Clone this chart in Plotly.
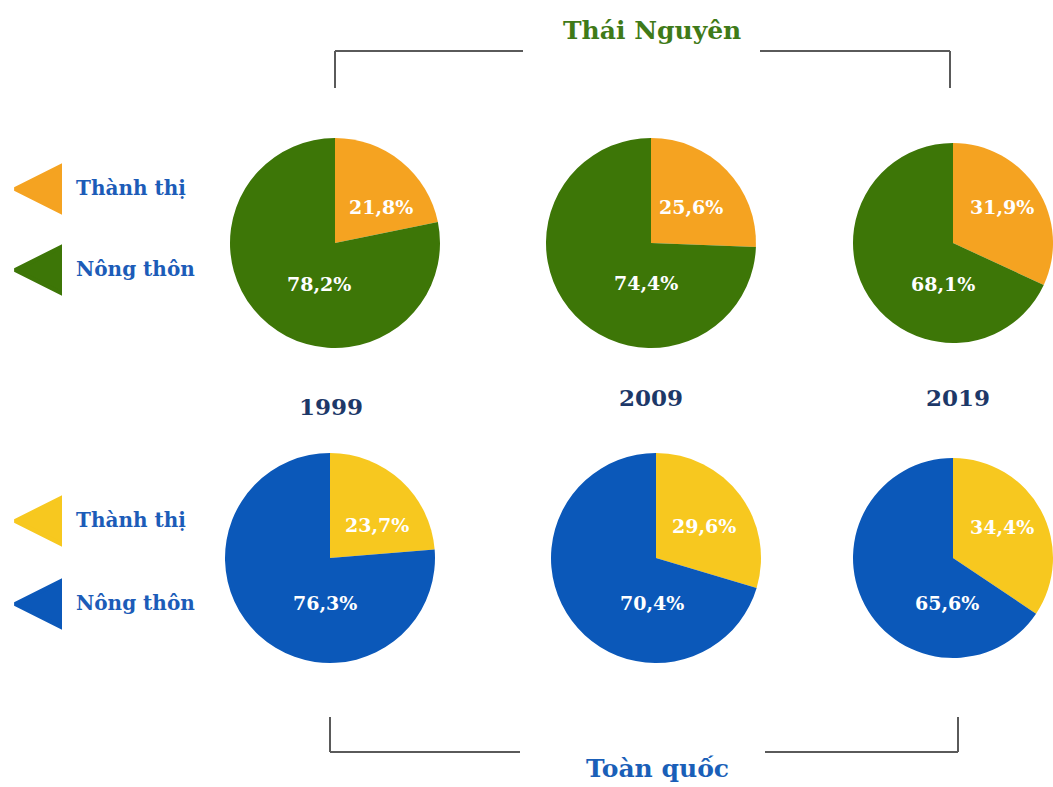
import plotly.graph_objects as go

W, H = 1053, 787

years = ["1999", "2009", "2019"]
categories = ["Thành thị", "Nông thôn"]
tn_urban = [21.8, 25.6, 31.9]
tn_rural = [78.2, 74.4, 68.1]
vn_urban = [23.7, 29.6, 34.4]
vn_rural = [76.3, 70.4, 65.6]
group_titles = ["Thái Nguyên", "Toàn quốc"]

TN_COLORS = ["#f5a321", "#3d7607"]
VN_COLORS = ["#f7c81f", "#0b58b9"]
LEGEND_TEXT = "#1c5cb8"
YEAR_TEXT = "#1d3868"
FONT = "DejaVu Serif"

def px(x):
    return x / W

def py(y):
    return 1 - y / H

def fmt(v):
    return f"{v:.1f}".replace(".", ",") + "%"

fig = go.Figure()

# pie geometry (pixels): centre x, centre y, radius
top_centers = [335, 651, 953]
bot_centers = [330, 656, 953]
radii = [105, 105, 100]
top_cy, bot_cy = 243, 558

# label anchor positions (pixels) for [urban, rural] slices
top_lab = [[(381, 207), (319, 284)], [(691, 207), (646, 283)], [(1002, 207), (943, 284)]]
bot_lab = [[(377, 525), (325, 603)], [(704, 526), (652, 603)], [(1002, 527), (947, 603)]]

def add_pie(vals, colors, cx, cy, r, labpos):
    x0, x1 = max(0, px(cx - r)), min(1, px(cx + r))
    y0, y1 = max(0, py(cy + r)), min(1, py(cy - r))
    fig.add_trace(go.Pie(
        labels=categories, values=vals, sort=False, direction="clockwise",
        rotation=0, marker=dict(colors=colors, line=dict(width=0)),
        textinfo="none",
        domain=dict(x=[x0, x1], y=[y0, y1]), showlegend=False,
        hoverinfo="label+value"))
    for v, (lx, ly) in zip(vals, labpos):
        fig.add_annotation(x=px(lx), y=py(ly), xref="paper", yref="paper", text=fmt(v),
                           showarrow=False, xanchor="center", yanchor="middle",
                           font=dict(family=FONT, size=19, color="white", weight="bold"))

for i in range(3):
    add_pie([tn_urban[i], tn_rural[i]], TN_COLORS, top_centers[i], top_cy, radii[i], top_lab[i])
    add_pie([vn_urban[i], vn_rural[i]], VN_COLORS, bot_centers[i], bot_cy, radii[i], bot_lab[i])

# legend markers (triangles pointing left)
leg_y = [[189, 270], [521, 604]]
for g, cols in enumerate([TN_COLORS, VN_COLORS]):
    fig.add_trace(go.Scatter(
        x=[15, 15], y=leg_y[g], mode="markers",
        marker=dict(symbol="arrow-left", size=45, color=cols,
                    line=dict(width=4, color=cols)),
        showlegend=False, hoverinfo="skip"))
    for k, lab in enumerate(categories):
        fig.add_annotation(x=px(74), y=py(leg_y[g][k] - 1), xref="paper", yref="paper",
                           text=lab, showarrow=False, xanchor="left", yanchor="middle",
                           font=dict(family=FONT, size=20, color=LEGEND_TEXT, weight="bold"))

# year labels
year_pos = [(331, 406), (651, 398), (958, 398)]
for yr, (x, y) in zip(years, year_pos):
    fig.add_annotation(x=px(x), y=py(y), xref="paper", yref="paper", text=yr,
                       showarrow=False, xanchor="center", yanchor="middle",
                       font=dict(family=FONT, size=23, color=YEAR_TEXT, weight="bold"))

# group titles
fig.add_annotation(x=px(652), y=py(31), xref="paper", yref="paper", text=group_titles[0],
                   showarrow=False, xanchor="center", yanchor="middle",
                   font=dict(family=FONT, size=25, color="#3f7a18", weight="bold"))
fig.add_annotation(x=px(657), y=py(768), xref="paper", yref="paper", text=group_titles[1],
                   showarrow=False, xanchor="center", yanchor="middle",
                   font=dict(family=FONT, size=25, color="#1a5fb8", weight="bold"))

# brackets
line = dict(color="#5a5a5a", width=2)
def seg(x0, y0, x1, y1):
    fig.add_shape(type="line", xref="paper", yref="paper",
                  x0=px(x0), y0=py(y0), x1=px(x1), y1=py(y1), line=line)

seg(335, 51, 523, 51); seg(335, 51, 335, 88)
seg(760, 51, 950, 51); seg(950, 51, 950, 88)
seg(330, 752, 520, 752); seg(330, 752, 330, 717)
seg(765, 752, 958, 752); seg(958, 752, 958, 717)

fig.update_layout(
    width=W, height=H, margin=dict(l=0, r=0, t=0, b=0),
    paper_bgcolor="white", plot_bgcolor="white", separators=",.",
    xaxis=dict(range=[0, W], visible=False, domain=[0, 1], fixedrange=True),
    yaxis=dict(range=[H, 0], visible=False, domain=[0, 1], fixedrange=True),
    showlegend=False,
)

fig.write_html("out.html", config={"displayModeBar": False},
               post_script="document.body.style.margin='0';document.body.style.overflow='hidden';")
